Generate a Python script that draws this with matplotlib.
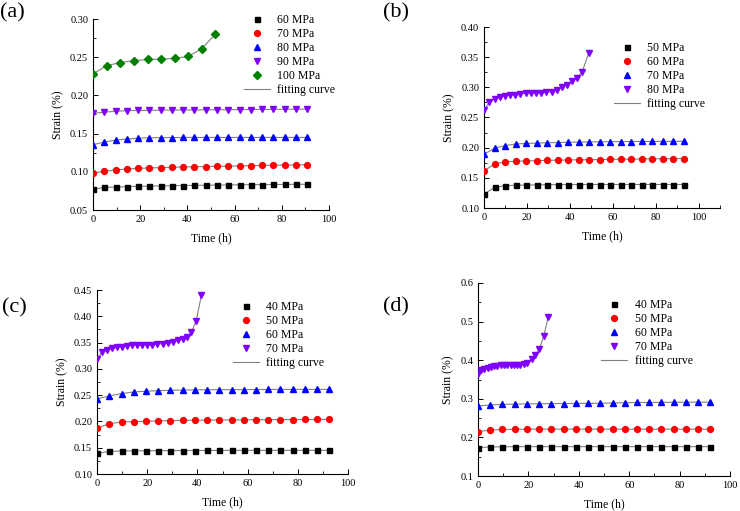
import matplotlib.pyplot as plt
from matplotlib.ticker import AutoMinorLocator
from matplotlib.lines import Line2D

plt.rcParams['font.family'] = ['Liberation Serif', 'DejaVu Serif']

# ---- panel (a) ----
t_a = [0, 4.8, 9.6, 14.4, 19.1, 23.9, 28.7, 33.5, 38.2, 43.0,
       47.8, 52.6, 57.3, 62.1, 66.9, 71.7, 76.4, 81.2, 86.0, 90.8]
a_60 = [0.0770, 0.0795, 0.0800, 0.0805, 0.0810, 0.0813, 0.0815, 0.0818, 0.0820, 0.0822,
        0.0824, 0.0826, 0.0828, 0.0830, 0.0831, 0.0832, 0.0834, 0.0835, 0.0836, 0.0837]
a_70 = [0.0985, 0.1005, 0.1025, 0.1037, 0.1045, 0.1050, 0.1055, 0.1060, 0.1063, 0.1066,
        0.1069, 0.1072, 0.1075, 0.1077, 0.1080, 0.1083, 0.1086, 0.1088, 0.1090, 0.1093]
a_80 = [0.1355, 0.1390, 0.1415, 0.1430, 0.1440, 0.1445, 0.1447, 0.1448, 0.1449, 0.1450,
        0.1450, 0.1450, 0.1450, 0.1450, 0.1450, 0.1450, 0.1450, 0.1450, 0.1450, 0.1450]
a_90 = [0.1765, 0.1780, 0.1793, 0.1800, 0.1803, 0.1805, 0.1807, 0.1808, 0.1809, 0.1810,
        0.1811, 0.1812, 0.1813, 0.1814, 0.1815, 0.1816, 0.1817, 0.1818, 0.1819, 0.1820]
t_a100 = [0, 5.8, 11.6, 17.4, 23.2, 29.0, 34.6, 40.3, 46.0, 51.8]
a_100 = [0.228, 0.239, 0.243, 0.2455, 0.247, 0.2475, 0.2485, 0.251, 0.261, 0.280]

# ---- panel (b) ----
t_b = [0, 4.9, 9.8, 14.7, 19.6, 24.5, 29.4, 34.3, 39.2, 44.1,
       49.0, 53.9, 58.8, 63.7, 68.6, 73.5, 78.4, 83.3, 88.2, 93.0]
b_50 = [0.1230, 0.1340, 0.1370, 0.1378, 0.1380, 0.1384, 0.1386, 0.1387, 0.1388, 0.1388,
        0.1389, 0.1389, 0.1389, 0.1389, 0.1389, 0.1389, 0.1389, 0.1389, 0.1389, 0.1389]
b_60 = [0.1615, 0.1730, 0.1765, 0.1776, 0.1780, 0.1785, 0.1790, 0.1793, 0.1796, 0.1799,
        0.1801, 0.1803, 0.1806, 0.1808, 0.1810, 0.1813, 0.1815, 0.1816, 0.1818, 0.1820]
b_70 = [0.1890, 0.1990, 0.2035, 0.2060, 0.2070, 0.2076, 0.2080, 0.2085, 0.2090, 0.2093,
        0.2096, 0.2098, 0.2100, 0.2101, 0.2102, 0.2103, 0.2104, 0.2105, 0.2105, 0.2106]
t_b80 = [0, 2.4, 4.9, 7.3, 9.7, 12.1, 14.6, 17.0, 19.4, 21.8,
         24.3, 26.7, 29.1, 31.5, 33.9, 36.3, 38.6, 40.9, 43.3, 45.8, 48.8]
b_80 = [0.262, 0.275, 0.281, 0.284, 0.286, 0.287, 0.288, 0.289, 0.290, 0.2905,
        0.291, 0.291, 0.2915, 0.293, 0.295, 0.300, 0.304, 0.310, 0.315, 0.326, 0.357]

# ---- panel (c) ----
t_c = [0, 4.9, 9.8, 14.6, 19.5, 24.4, 29.2, 34.1, 39.0, 43.8,
       48.7, 53.6, 58.4, 63.3, 68.2, 73.0, 77.9, 82.8, 87.6, 92.5]
c_40 = [0.1390, 0.1430, 0.1437, 0.1440, 0.1442, 0.1444, 0.1445, 0.1446, 0.1447, 0.1448,
        0.1449, 0.1450, 0.1450, 0.1450, 0.1450, 0.1450, 0.1451, 0.1451, 0.1451, 0.1451]
c_50 = [0.1875, 0.1955, 0.1990, 0.1998, 0.2003, 0.2010, 0.2015, 0.2020, 0.2022, 0.2025,
        0.2027, 0.2029, 0.2030, 0.2032, 0.2033, 0.2035, 0.2036, 0.2037, 0.2038, 0.2039]
c_60 = [0.2430, 0.2485, 0.2530, 0.2560, 0.2575, 0.2585, 0.2592, 0.2597, 0.2600, 0.2602,
        0.2604, 0.2605, 0.2606, 0.2607, 0.2608, 0.2609, 0.2610, 0.2610, 0.2610, 0.2610]
t_c70 = [0, 2.0, 4.1, 6.1, 8.1, 10.1, 12.1, 14.1, 16.1, 18.1,
         20.1, 22.1, 24.1, 26.1, 28.1, 30.1, 32.1, 34.1, 36.0, 37.6, 39.5, 41.6]
c_70 = [0.318, 0.332, 0.336, 0.339, 0.341, 0.342, 0.344, 0.345, 0.345, 0.346,
        0.346, 0.346, 0.347, 0.348, 0.349, 0.351, 0.354, 0.357, 0.361, 0.370, 0.391, 0.440]

# ---- panel (d) ----
t_d = [0, 4.9, 9.7, 14.6, 19.4, 24.3, 29.1, 34.0, 38.8, 43.7,
       48.5, 53.4, 58.2, 63.1, 67.9, 72.8, 77.6, 82.5, 87.3, 92.2]
d_40 = [0.1737, 0.1750, 0.1758, 0.1760, 0.1760, 0.1760, 0.1760, 0.1760, 0.1760, 0.1760,
        0.1760, 0.1760, 0.1760, 0.1760, 0.1760, 0.1760, 0.1760, 0.1760, 0.1760, 0.1760]
d_50 = [0.2150, 0.2190, 0.2205, 0.2210, 0.2212, 0.2213, 0.2213, 0.2213, 0.2213, 0.2213,
        0.2213, 0.2213, 0.2213, 0.2213, 0.2213, 0.2213, 0.2213, 0.2213, 0.2213, 0.2213]
d_60 = [0.2815, 0.2840, 0.2855, 0.2863, 0.2868, 0.2872, 0.2875, 0.2878, 0.2880, 0.2883,
        0.2886, 0.2890, 0.2900, 0.2905, 0.2905, 0.2908, 0.2910, 0.2912, 0.2913, 0.2915]
t_d70 = [0, 1.2, 2.5, 3.8, 5.1, 6.4, 7.7, 9.0, 10.3, 11.6,
         12.9, 14.2, 15.5, 16.8, 18.1, 19.6, 21.3, 22.8, 24.4, 26.1, 27.9]
d_70 = [0.365, 0.374, 0.378, 0.381, 0.383, 0.385, 0.386, 0.387, 0.387, 0.387,
        0.387, 0.387, 0.387, 0.388, 0.390, 0.394, 0.404, 0.414, 0.430, 0.462, 0.513]

styles = [('s', 'black', 3.6), ('o', 'red', 4.2), ('^', 'blue', 4.6),
          ('v', '#8000ff', 4.6), ('D', 'green', 3.8)]
curve_color = '#808080'

fig = plt.figure(figsize=(7.4, 5.11), dpi=100)
W, H = 740, 511


def add_ax(left, top, right, bottom):
    return fig.add_axes([left / W, 1 - bottom / H, (right - left) / W, (bottom - top) / H])


def draw(ax, series, labels, xlim, ylim, yticks, ystep_fmt, leg_xy):
    handles = []
    for (t, y), lab, (mk, col, ms) in zip(series, labels, styles):
        ax.plot(t, y, '-', color=curve_color, lw=0.8, zorder=2)
        ax.plot(t, y, linestyle='none', marker=mk, color=col, ms=ms, zorder=3)
        handles.append(Line2D([], [], linestyle='none', marker=mk, color=col, ms=ms, label=lab))
    handles.append(Line2D([], [], color=curve_color, lw=0.8, label='fitting curve'))
    ax.set_xlim(*xlim)
    ax.set_ylim(*ylim)
    ax.set_xticks([0, 20, 40, 60, 80, 100])
    ax.set_yticks(yticks)
    ax.set_yticklabels([ystep_fmt.format(v) for v in yticks])
    ax.xaxis.set_minor_locator(AutoMinorLocator(2))
    ax.yaxis.set_minor_locator(AutoMinorLocator(2))
    ax.tick_params(direction='in', which='both', labelsize=7.5)
    ax.tick_params(which='major', length=3.5, width=0.7)
    ax.tick_params(which='minor', length=2, width=0.6)
    for s in ('top', 'right'):
        ax.spines[s].set_visible(False)
    for s in ('left', 'bottom'):
        ax.spines[s].set_linewidth(0.8)
    ax.set_xlabel('Time (h)', fontsize=8.5, labelpad=6)
    ax.set_ylabel('Strain (%)', fontsize=8.5, labelpad=4)
    ax.legend(handles=handles, loc='upper left', bbox_to_anchor=leg_xy, frameon=False,
              fontsize=8.5, handlelength=2.2, handletextpad=0.6, labelspacing=0.17,
              borderaxespad=0, borderpad=0)


ax_a = add_ax(93, 19, 329, 210)
draw(ax_a, [(t_a, a_60), (t_a, a_70), (t_a, a_80), (t_a, a_90), (t_a100, a_100)],
     ['60 MPa', '70 MPa', '80 MPa', '90 MPa', '100 MPa'],
     (0, 100), (0.05, 0.30), [0.05, 0.10, 0.15, 0.20, 0.25, 0.30], '{:.2f}', (0.64, 1.024))

ax_b = add_ax(484, 27, 720, 208)
draw(ax_b, [(t_b, b_50), (t_b, b_60), (t_b, b_70), (t_b80, b_80)],
     ['50 MPa', '60 MPa', '70 MPa', '80 MPa'],
     (0, 110), (0.10, 0.40), [0.10, 0.15, 0.20, 0.25, 0.30, 0.35, 0.40], '{:.2f}', (0.549, 0.915))

ax_c = add_ax(97, 290, 348, 474)
draw(ax_c, [(t_c, c_40), (t_c, c_50), (t_c, c_60), (t_c70, c_70)],
     ['40 MPa', '50 MPa', '60 MPa', '70 MPa'],
     (0, 100), (0.10, 0.45), [0.10, 0.15, 0.20, 0.25, 0.30, 0.35, 0.40, 0.45], '{:.2f}', (0.542, 0.938))

ax_d = add_ax(478, 283, 730, 476)
draw(ax_d, [(t_d, d_40), (t_d, d_50), (t_d, d_60), (t_d70, d_70)],
     ['40 MPa', '50 MPa', '60 MPa', '70 MPa'],
     (0, 100), (0.1, 0.6), [0.1, 0.2, 0.3, 0.4, 0.5, 0.6], '{:.1f}', (0.49, 0.915))

fig.text(0.0 / W, 1 - 13 / H, '(a)', fontsize=16, va='center', ha='left')
fig.text(383 / W, 1 - 13 / H, '(b)', fontsize=16, va='center', ha='left')
fig.text(2 / W, 1 - 308 / H, '(c)', fontsize=16, va='center', ha='left')
fig.text(383 / W, 1 - 307 / H, '(d)', fontsize=16, va='center', ha='left')

fig.savefig('out.png', dpi=100)
